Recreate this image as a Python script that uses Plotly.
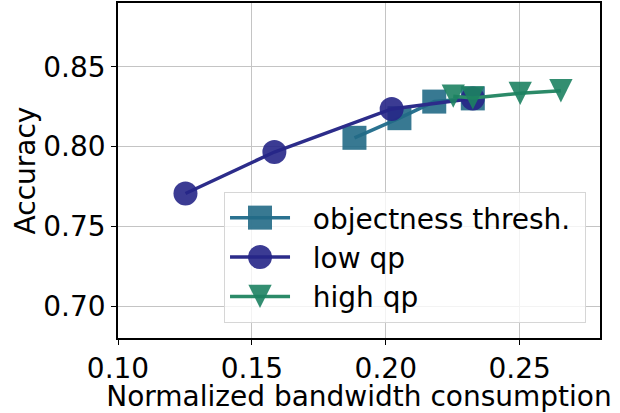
import plotly.graph_objects as go

# Accuracy vs. normalized bandwidth for three encoding knobs
obj_bw = [0.1883, 0.2051, 0.2181, 0.2325]
obj_acc = [0.8055, 0.8178, 0.8282, 0.8302]

lowqp_bw = [0.1252, 0.1584, 0.2022, 0.2325]
lowqp_acc = [0.7706, 0.7966, 0.8236, 0.8302]

highqp_bw = [0.2252, 0.2325, 0.2502, 0.2654]
highqp_acc = [0.8316, 0.8305, 0.8334, 0.8350]

series_names = ["objectness thresh.", "low qp", "high qp"]
x_ticks = [0.10, 0.15, 0.20, 0.25]
y_ticks = [0.70, 0.75, 0.80, 0.85]

FONT = "DejaVu Sans"
PAD = "\u00a0\u00a0"  # gap between legend sample and label

fig = go.Figure()

fig.add_trace(go.Scatter(
    x=obj_bw, y=obj_acc, mode="lines+markers", name=PAD + series_names[0] + "\u00a0",
    line=dict(color="#2a7290", width=3.5),
    marker=dict(symbol="square", size=24, color="#226a86", opacity=0.9),
))
fig.add_trace(go.Scatter(
    x=lowqp_bw, y=lowqp_acc, mode="lines+markers", name=PAD + series_names[1],
    line=dict(color="#2c2c8a", width=3.5),
    marker=dict(symbol="circle", size=24, color="#262687", opacity=0.9),
))
fig.add_trace(go.Scatter(
    x=highqp_bw, y=highqp_acc, mode="lines+markers", name=PAD + series_names[2],
    line=dict(color="#2b8a68", width=3.5),
    marker=dict(symbol="triangle-down", size=20, color="#1d8262", opacity=0.9),
))

axis_common = dict(
    showgrid=True, gridcolor="#c4c4c4", gridwidth=1,
    showline=True, linecolor="black", linewidth=1.5, mirror=True,
    ticks="outside", ticklen=5, tickwidth=1.3, tickcolor="black",
    tickfont=dict(family=FONT, size=28, color="black"),
    zeroline=False,
)

fig.update_xaxes(
    range=[0.10, 0.28], tickvals=x_ticks, tickformat=".2f",
    title=dict(text="Normalized bandwidth consumption",
               font=dict(family=FONT, size=28, color="black"), standoff=3),
    **axis_common,
)
fig.update_yaxes(
    range=[0.68, 0.89], tickvals=y_ticks, tickformat=".2f",
    title=dict(text="Accuracy",
               font=dict(family=FONT, size=28, color="black"), standoff=0),
    **axis_common,
)

fig.update_layout(
    width=620, height=413,
    margin=dict(l=118, r=20, t=1, b=75),
    paper_bgcolor="white", plot_bgcolor="white",
    font=dict(family=FONT, size=28, color="black"),
    showlegend=True,
    legend=dict(
        x=0.971, y=0.045, xanchor="right", yanchor="bottom",
        bgcolor="rgba(255,255,255,0.8)", bordercolor="#d6d6d6", borderwidth=1,
        font=dict(family=FONT, size=28, color="black"),
        itemwidth=60, tracegroupgap=0,
    ),
)

# Marker shape tweaks: an equal-width/height downward triangle for "high qp",
# and full-size marker samples in the legend (plotly caps them at 16px).
post_js = """
var gd = document.getElementById('{plot_id}');
var tri = 'M-11.65,-11.65H11.65L0,11.65Z';
function reshapeMarkers() {
  var traces = gd.querySelectorAll('.scatterlayer .trace');
  if (traces.length > 2) {
    traces[2].querySelectorAll('.points path').forEach(function(p) { p.setAttribute('d', tri); });
  }
  gd.querySelectorAll('.legend .traces').forEach(function(it, i) {
    it.querySelectorAll('.legendpoints path.scatterpts').forEach(function(p) {
      if (i === 2) { p.setAttribute('d', tri); return; }
      var t = p.getAttribute('transform') || '';
      if (t.indexOf('scale') < 0) { p.setAttribute('transform', t + ' scale(1.5)'); }
    });
  });
}
reshapeMarkers();
gd.on('plotly_afterplot', reshapeMarkers);
"""

fig.write_html("out.html", post_script=post_js)
